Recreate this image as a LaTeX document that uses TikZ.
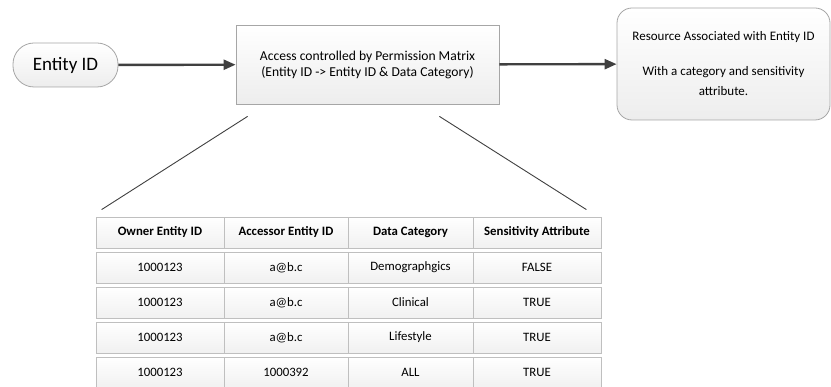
\documentclass[tikz,border=0pt]{standalone}
\usepackage{fontspec}
\setmainfont{Carlito}
\usepackage{tikz}
\usetikzlibrary{arrows.meta, positioning, calc}
\definecolor{edgeA}{HTML}{A6A6A6}
\definecolor{edgeB}{HTML}{BFBFBF}
\definecolor{fillA}{HTML}{EDEDED}
\definecolor{lineA}{HTML}{404040}
\tikzset{
  box/.style={
    draw=edgeA, top color=white, bottom color=fillA,
    line width=0.8pt, align=center, inner sep=4pt
  },
  cell/.style={
    draw=edgeB, top color=white, bottom color=fillA!80,
    line width=0.8pt, align=center, inner sep=0pt,
    minimum height=31pt, font=\fontsize{12.8}{15}\selectfont
  },
  flow/.style={-{Triangle[length=12pt, width=10pt]}, line width=2.4pt, color=lineA},
  zoomline/.style={line width=0.9pt, color=lineA}
}

\begin{document}
\begin{tikzpicture}[x=1pt, y=-1pt]
  \useasboundingbox (0,0) rectangle (831,387);
  % top flow
  \node[box, rounded corners=21pt, minimum width=105pt, minimum height=44pt,
        font=\fontsize{19}{22}\selectfont] (entity) at (65.5,65) {Entity ID};
  \node[box, minimum width=263pt, minimum height=79pt,
        font=\fontsize{13.6}{16}\selectfont] (access) at (367.5,64.5)
    {Access controlled by Permission Matrix\\(Entity ID -> Entity ID \& Data Category)};
  \node[box, rounded corners=15pt, minimum width=213pt, minimum height=112pt,
        font=\fontsize{13}{20}\selectfont] (resource) at (723.5,64)
    {Resource Associated with Entity ID\\[15pt]With a category and sensitivity\\attribute.};
  \draw[flow] (entity) -- (access);
  \draw[flow] (access) -- (resource);
  % permission table
  \foreach \r/\a/\b/\c/\d in {
      0/\textbf{Owner Entity ID}/\textbf{Accessor Entity ID}/\textbf{Data Category}/\textbf{Sensitivity Attribute},
      1/1000123/a@b.c/Demographgics/FALSE,
      2/1000123/a@b.c/Clinical/TRUE,
      3/1000123/a@b.c/Lifestyle/TRUE,
      4/1000123/1000392/ALL/TRUE} {
    \node[cell, minimum width=128pt] (c\r-1) at (160,232.5+35*\r) {\a};
    \node[cell, minimum width=124pt] (c\r-2) at (286,232.5+35*\r) {\b};
    \node[cell, minimum width=125pt] (c\r-3) at (410.5,232.5+35*\r) {\c};
    \node[cell, minimum width=128pt] (c\r-4) at (537,232.5+35*\r) {\d};
  }
  % zoom lines
  \coordinate (zl1) at ($(access.south west)+(12,12)$);
  \coordinate (zl2) at ($(c0-1.north west)+(6,-7)$);
  \coordinate (zr1) at ($(access.south east)+(-60,12)$);
  \coordinate (zr2) at ($(c0-4.north east)+(-15,-7)$);
  \draw[zoomline] (zl1) -- (zl2);
  \draw[zoomline] (zr1) -- (zr2);
\end{tikzpicture}
\end{document}
